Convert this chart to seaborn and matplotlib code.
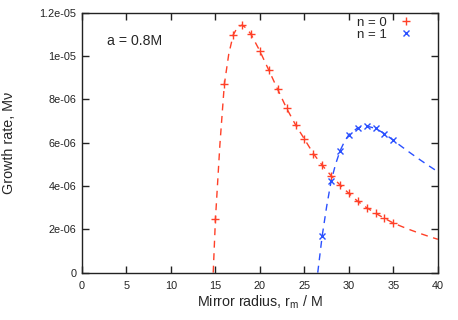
import matplotlib
matplotlib.use("Agg")
import matplotlib.pyplot as plt
import seaborn as sns
import pandas as pd

# n = 0 data points
n0_r = [15, 16, 17, 18, 19, 20, 21, 22, 23, 24, 25, 26, 27, 28, 29, 30, 31, 32, 33, 34, 35]
n0_rate = [2.46e-6, 8.69e-6, 10.98e-6, 11.42e-6, 11.01e-6, 10.23e-6, 9.35e-6, 8.46e-6,
           7.59e-6, 6.83e-6, 6.17e-6, 5.50e-6, 4.96e-6, 4.48e-6, 4.05e-6, 3.66e-6,
           3.29e-6, 3.00e-6, 2.74e-6, 2.51e-6, 2.29e-6]
# n = 0 fitted curve
n0_fit_r = [14.75, 15, 15.5, 16, 16.5, 17, 17.5, 18, 18.5, 19, 20, 21, 22, 23, 24, 25, 26, 27,
            28, 29, 30, 31, 32, 33, 34, 35, 36, 37, 38, 39, 40]
n0_fit_rate = [0.0, 2.46e-6, 5.9e-6, 8.69e-6, 10.1e-6, 10.98e-6, 11.35e-6, 11.43e-6, 11.28e-6,
               11.01e-6, 10.23e-6, 9.35e-6, 8.46e-6, 7.59e-6, 6.83e-6, 6.17e-6, 5.50e-6,
               4.96e-6, 4.48e-6, 4.05e-6, 3.66e-6, 3.29e-6, 3.00e-6, 2.74e-6, 2.51e-6,
               2.29e-6, 2.12e-6, 1.96e-6, 1.81e-6, 1.67e-6, 1.54e-6]

# n = 1 data points
n1_r = [27, 28, 29, 30, 31, 32, 33, 34, 35]
n1_rate = [1.70e-6, 4.22e-6, 5.62e-6, 6.37e-6, 6.69e-6, 6.77e-6, 6.66e-6, 6.42e-6, 6.11e-6]
# n = 1 fitted curve
n1_fit_r = [26.5, 27, 27.5, 28, 28.5, 29, 29.5, 30, 31, 32, 33, 34, 35, 36, 37, 38, 39, 40]
n1_fit_rate = [0.0, 1.70e-6, 3.05e-6, 4.22e-6, 5.0e-6, 5.62e-6, 6.05e-6, 6.37e-6, 6.69e-6,
               6.77e-6, 6.66e-6, 6.42e-6, 6.11e-6, 5.80e-6, 5.50e-6, 5.21e-6, 4.93e-6, 4.66e-6]

xticks = [0, 5, 10, 15, 20, 25, 30, 35, 40]
yticks = [0, 2e-6, 4e-6, 6e-6, 8e-6, 1e-5, 1.2e-5]
ytick_labels = ["0", "2e-06", "4e-06", "6e-06", "8e-06", "1e-05", "1.2e-05"]

RED = "#ff4028"
BLUE = "#2a50ff"

sns.set_style("ticks")
plt.rcParams["font.family"] = ["Liberation Sans", "DejaVu Sans"]

fig = plt.figure(figsize=(4.58, 3.2), dpi=100)
ax = fig.add_axes([0.179, 0.148, 0.777, 0.812])

pts0 = pd.DataFrame({"r": n0_r, "rate": n0_rate})
pts1 = pd.DataFrame({"r": n1_r, "rate": n1_rate})
fit0 = pd.DataFrame({"r": n0_fit_r, "rate": n0_fit_rate})
fit1 = pd.DataFrame({"r": n1_fit_r, "rate": n1_fit_rate})

sns.lineplot(data=fit0, x="r", y="rate", ax=ax, color=RED, lw=1.0,
             linestyle=(0, (5, 4)), sort=False, legend=False)
sns.lineplot(data=fit1, x="r", y="rate", ax=ax, color=BLUE, lw=1.0,
             linestyle=(0, (5, 4)), sort=False, legend=False)

ax.plot(pts0["r"], pts0["rate"], linestyle="none", marker="+", ms=6, mew=1.0,
        color=RED, label="n = 0")
ax.plot(pts1["r"], pts1["rate"], linestyle="none", marker="x", ms=5, mew=1.0,
        color=BLUE, label="n = 1")

ax.set_xlim(0, 40)
ax.set_ylim(0, 1.2e-5)
ax.set_xticks(xticks)
ax.set_xticklabels([str(t) for t in xticks])
ax.set_yticks(yticks)
ax.set_yticklabels(ytick_labels)
ax.tick_params(direction="in", length=5, width=1, labelsize=7.8, top=True, right=True,
               labeltop=False, labelright=False, pad=4, colors="#222222")
ax.tick_params(axis="x", pad=6)
for s in ax.spines.values():
    s.set_linewidth(1.0)
    s.set_color("#222222")

ax.set_xlabel("Mirror radius, r$_{\\mathregular{m}}$ / M", fontsize=10.3, labelpad=2)
ax.set_ylabel("Growth rate, Mν", fontsize=10.3, labelpad=17)

ax.text(0.07, 0.893, "a = 0.8M", transform=ax.transAxes, fontsize=10.2, va="center", ha="left")

leg = ax.legend(loc="upper right", markerfirst=False, frameon=False, fontsize=9.5,
                handlelength=1.1, handletextpad=0.9, labelspacing=-0.05,
                borderaxespad=0, borderpad=0, bbox_to_anchor=(0.93, 0.985))

fig.savefig("out.png", dpi=100)
